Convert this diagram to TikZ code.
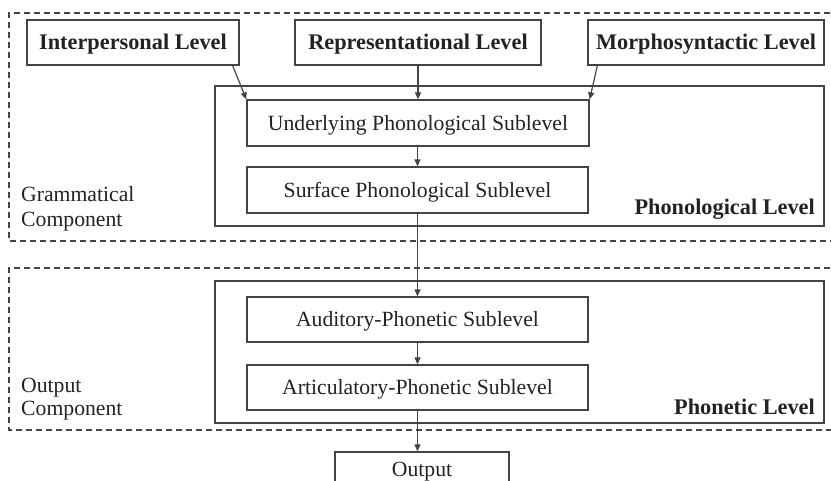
\documentclass[tikz,border=0pt]{standalone}
\usepackage{fontspec}
\setmainfont{Liberation Serif}
\usetikzlibrary{arrows.meta}
\definecolor{ink}{HTML}{222222}
\definecolor{rule}{HTML}{444444}
\begin{document}
\begin{tikzpicture}[x=1pt,y=-1pt,
  box/.style={draw=rule, line width=1.3pt, text=ink, inner sep=0pt,
    text height=16pt, text depth=1pt,
    font=\fontsize{21.7}{25}\selectfont},
  boldbox/.style={box, font=\fontsize{22.3}{25}\selectfont\bfseries},
  frame/.style={draw=rule, line width=1.3pt, inner sep=0pt},
  zone/.style={draw=rule, line width=1.2pt, dash pattern=on 6pt off 4pt},
  link/.style={draw=rule, line width=1.2pt, -{Triangle[length=7pt,width=6pt]}},
  lbl/.style={text=ink, inner sep=0pt, align=left,
    font=\fontsize{21.7}{25}\selectfont},
  lvl/.style={text=ink, inner sep=0pt,
    font=\fontsize{22.3}{25}\selectfont\bfseries}]
\useasboundingbox (0,0) rectangle (831,481);

% component zones (open on the right)
\draw[zone] (840,13) -- (9,13) -- (9,241) -- (840,241);
\draw[zone] (840,268) -- (9,268) -- (9,430) -- (840,430);

% level frames
\node[frame, minimum width=609pt, minimum height=140pt] (phonol) at (519.5,156) {};
\node[frame, minimum width=609pt, minimum height=142pt] (phonet) at (519.5,352) {};

% top levels
\node[boldbox, minimum width=212pt, minimum height=45pt] (ip) at (133,42.5) {Interpersonal Level};
\node[boldbox, minimum width=246pt, minimum height=45pt] (rp) at (418,42.5) {Representational Level};
\node[boldbox, minimum width=236pt, minimum height=45pt] (ms) at (706,42.5) {Morphosyntactic Level};

% sublevels
\node[box, minimum width=342pt, minimum height=46pt] (ul) at (418,123) {Underlying Phonological Sublevel};
\node[box, minimum width=341pt, minimum height=46pt] (sf) at (417.5,190) {Surface Phonological Sublevel};
\node[box, minimum width=341pt, minimum height=45pt] (au) at (417.5,319.5) {Auditory-Phonetic Sublevel};
\node[box, minimum width=341pt, minimum height=45pt] (ar) at (417.5,387.5) {Articulatory-Phonetic Sublevel};
% final box runs past the lower edge of the page
\node[box, minimum width=174pt, minimum height=34pt] (out) at (422,469) {Output};

% labels
\node[lvl, anchor=base east] (phonollbl) at (815,215) {Phonological Level};
\node[lvl, anchor=base east] (phonetlbl) at (815,414) {Phonetic Level};
\node[lbl, anchor=base west] (gram1) at (21,202) {Grammatical};
\node[lbl, anchor=base west] (gram2) at (21,227) {Component};
\node[lbl, anchor=base west] (outc1) at (21,392) {Output};
\node[lbl, anchor=base west] (outc2) at (21,416) {Component};

% connectors
\draw[link] ([xshift=-7pt]ip.south east) -- (ul.north west);
\draw[link] (rp.south) -- (rp.south |- ul.north);
\draw[link] ([xshift=10pt]ms.south west) -- (ul.north east);
\draw[link] (ul.south -| sf.north) -- (sf.north);
\draw[link] (sf.south) -- (au.north);
\draw[link] (au.south) -- (ar.north);
\draw[link] (ar.south) -- (ar.south |- out.north);
\end{tikzpicture}
\end{document}
